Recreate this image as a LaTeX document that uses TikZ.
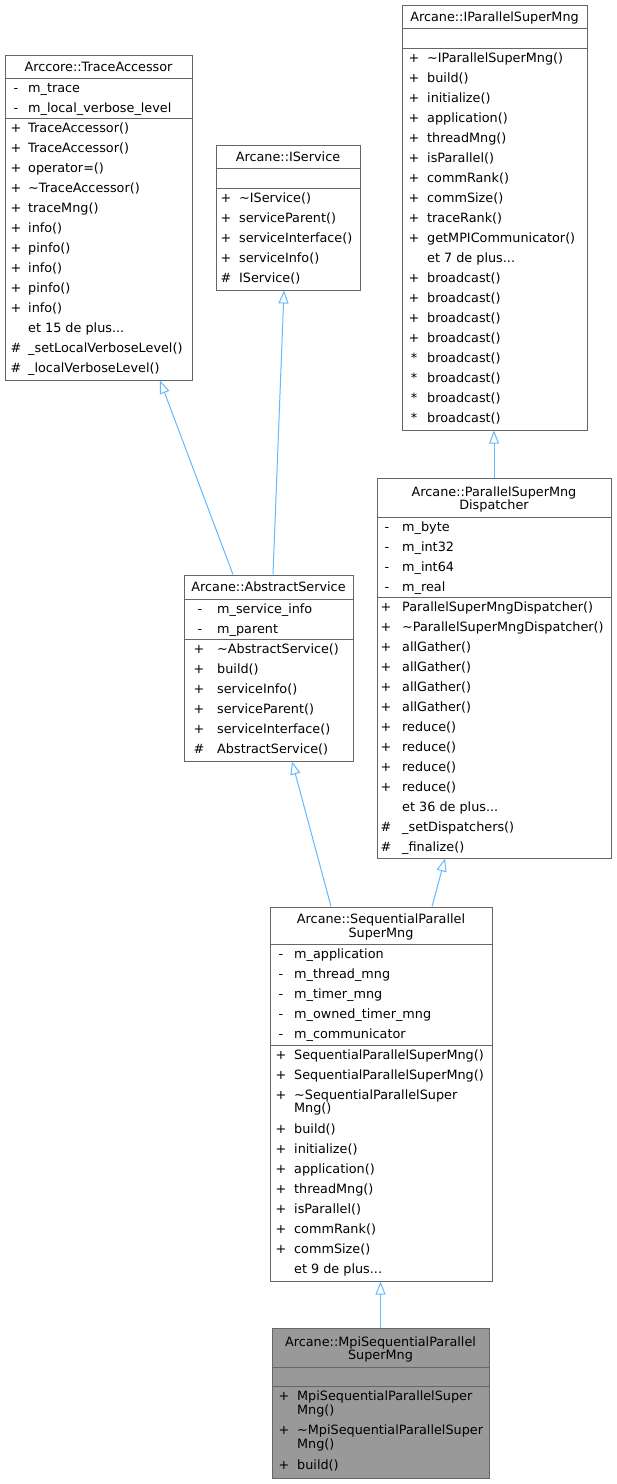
\documentclass[tikz,border=0pt]{standalone}
\usepackage{fontspec}
\setmainfont{DejaVu Sans}
\usetikzlibrary{arrows.meta}
\definecolor{boxline}{HTML}{666666}
\definecolor{edgeblue}{HTML}{63B8FF}
\definecolor{leafgray}{HTML}{999999}
\tikzset{
  classbox/.style={draw=boxline, fill=white, line width=1pt, inner sep=0pt},
  sepline/.style={draw=boxline, line width=1pt},
  memtext/.style={anchor=west, inner sep=0pt, text height=9pt, text depth=0pt},
  symtext/.style={anchor=center, inner sep=0pt, text height=9pt, text depth=0pt},
  titletext/.style={align=center, inner sep=0pt, text height=9pt, text depth=0pt,
    font=\fontsize{12.8}{13.5}\selectfont},
  inherit/.style={draw=edgeblue, line width=1pt, -{Triangle[open, length=13pt, width=10pt]}},
}
\begin{document}
\begin{tikzpicture}[x=1pt, y=-1pt, font=\fontsize{12.8}{20}\selectfont]
\useasboundingbox (0,0) rectangle (617,1484);

\node[classbox, minimum width=187, minimum height=325] (trace) at (98.5,217.5) {};
\node[classbox, minimum width=144, minimum height=145] (iservice) at (288,217.5) {};
\node[classbox, minimum width=185, minimum height=425] (ipar) at (494.5,217.5) {};
\node[classbox, minimum width=234, minimum height=380] (disp) at (494,668) {};
\node[classbox, minimum width=169, minimum height=186] (abs) at (268.5,668) {};
\node[classbox, minimum width=222, minimum height=374] (seq) at (381,1094) {};
\node[classbox, fill=leafgray, minimum width=217, minimum height=150] (mpi) at (380.5,1403) {};

\draw[sepline] (5,78) -- (192,78);
\draw[sepline] (5,118) -- (192,118);
\draw[sepline] (216,168) -- (360,168);
\draw[sepline] (216,188) -- (360,188);
\draw[sepline] (402,28) -- (587,28);
\draw[sepline] (402,48) -- (587,48);
\draw[sepline] (377,517) -- (611,517);
\draw[sepline] (377,597) -- (611,597);
\draw[sepline] (184,599) -- (353,599);
\draw[sepline] (184,639) -- (353,639);
\draw[sepline] (270,944) -- (492,944);
\draw[sepline] (270,1045) -- (492,1045);
\draw[sepline] (272,1367) -- (489,1367);
\draw[sepline] (272,1386) -- (489,1386);

\node[titletext] (trace-title) at (98.5,66.5) {Arccore::TraceAccessor};
\foreach \t [count=\i from 0] in {m\_trace, m\_local\_verbose\_level} {
  \node[symtext] (trace-as\i) at (16,87.5+20*\i) {-};
  \node[memtext] (trace-a\i) at (28,87.5+20*\i) {\t};
}
\foreach \t [count=\i from 0] in {TraceAccessor(), TraceAccessor(), operator=(),
    \textasciitilde TraceAccessor(), traceMng(), info(), pinfo(), info(), pinfo(), info()} {
  \node[symtext] (trace-ps\i) at (16,127.5+20*\i) {+};
  \node[memtext] (trace-p\i) at (28,127.5+20*\i) {\t};
}
\node[memtext] (trace-more) at (28,327.5) {et 15 de plus...};
\node[symtext] (trace-hs0) at (16,347.5) {\#};
\node[memtext] (trace-h0) at (28,347.5) {\_setLocalVerboseLevel()};
\node[symtext] (trace-hs1) at (16,367.5) {\#};
\node[memtext] (trace-h1) at (28,367.5) {\_localVerboseLevel()};

\node[titletext] (iservice-title) at (288,156.5) {Arcane::IService};
\foreach \t [count=\i from 0] in {\textasciitilde IService(), serviceParent(),
    serviceInterface(), serviceInfo()} {
  \node[symtext] (iservice-ps\i) at (226,197.5+20*\i) {+};
  \node[memtext] (iservice-p\i) at (239,197.5+20*\i) {\t};
}
\node[symtext] (iservice-hs0) at (226,277.5) {\#};
\node[memtext] (iservice-h0) at (239,277.5) {IService()};

\node[titletext] (ipar-title) at (494.5,16.5) {Arcane::IParallelSuperMng};
\foreach \t [count=\i from 0] in {\textasciitilde IParallelSuperMng(), build(), initialize(),
    application(), threadMng(), isParallel(), commRank(), commSize(), traceRank(),
    getMPICommunicator()} {
  \node[symtext] (ipar-ps\i) at (414,57.5+20*\i) {+};
  \node[memtext] (ipar-p\i) at (427,57.5+20*\i) {\t};
}
\node[memtext] (ipar-more) at (427,257.5) {et 7 de plus...};
\foreach \i in {0,...,3} {
  \node[symtext] (ipar-bs\i) at (414,277.5+20*\i) {+};
  \node[memtext] (ipar-b\i) at (427,277.5+20*\i) {broadcast()};
  \node[symtext] (ipar-ks\i) at (414,357.5+20*\i) {*};
  \node[memtext] (ipar-k\i) at (427,357.5+20*\i) {broadcast()};
}

\node[titletext] (disp-title) at (494,505) {Arcane::ParallelSuperMng\\Dispatcher};
\foreach \t [count=\i from 0] in {m\_byte, m\_int32, m\_int64, m\_real} {
  \node[symtext] (disp-as\i) at (387,526.5+20*\i) {-};
  \node[memtext] (disp-a\i) at (402,526.5+20*\i) {\t};
}
\foreach \t [count=\i from 0] in {ParallelSuperMngDispatcher(),
    \textasciitilde ParallelSuperMngDispatcher(), allGather(), allGather(), allGather(),
    allGather(), reduce(), reduce(), reduce(), reduce()} {
  \node[symtext] (disp-ps\i) at (386,606.5+20*\i) {+};
  \node[memtext] (disp-p\i) at (402,606.5+20*\i) {\t};
}
\node[memtext] (disp-more) at (402,806.5) {et 36 de plus...};
\node[symtext] (disp-hs0) at (386,826.5) {\#};
\node[memtext] (disp-h0) at (402,826.5) {\_setDispatchers()};
\node[symtext] (disp-hs1) at (386,846.5) {\#};
\node[memtext] (disp-h1) at (402,846.5) {\_finalize()};

\node[titletext] (abs-title) at (268.5,587) {Arcane::AbstractService};
\foreach \t [count=\i from 0] in {m\_service\_info, m\_parent} {
  \node[symtext] (abs-as\i) at (200,608.5+20*\i) {-};
  \node[memtext] (abs-a\i) at (217,608.5+20*\i) {\t};
}
\foreach \t [count=\i from 0] in {\textasciitilde AbstractService(), build(), serviceInfo(),
    serviceParent(), serviceInterface()} {
  \node[symtext] (abs-ps\i) at (199,648.5+20*\i) {+};
  \node[memtext] (abs-p\i) at (217,648.5+20*\i) {\t};
}
\node[symtext] (abs-hs0) at (199,748.5) {\#};
\node[memtext] (abs-h0) at (217,748.5) {AbstractService()};

\node[titletext] (seq-title) at (381,932.5) {Arcane::SequentialParallel\\SuperMng};
\foreach \t [count=\i from 0] in {m\_application, m\_thread\_mng, m\_timer\_mng,
    m\_owned\_timer\_mng, m\_communicator} {
  \node[symtext] (seq-as\i) at (281,953.5+20*\i) {-};
  \node[memtext] (seq-a\i) at (294,953.5+20*\i) {\t};
}
\node[symtext] (seq-cs0) at (281,1054.5) {+};
\node[memtext] (seq-c0) at (294,1054.5) {SequentialParallelSuperMng()};
\node[symtext] (seq-cs1) at (281,1074.5) {+};
\node[memtext] (seq-c1) at (294,1074.5) {SequentialParallelSuperMng()};
\node[symtext] (seq-ds) at (281,1094.5) {+};
\node[memtext] (seq-d) at (294,1094.5) {\textasciitilde SequentialParallelSuper};
\node[memtext] (seq-d2) at (294,1108) {Mng()};
\foreach \t [count=\i from 0] in {build(), initialize(), application(), threadMng(),
    isParallel(), commRank(), commSize()} {
  \node[symtext] (seq-ps\i) at (281,1128.5+20*\i) {+};
  \node[memtext] (seq-p\i) at (294,1128.5+20*\i) {\t};
}
\node[memtext] (seq-more) at (294,1268.5) {et 9 de plus...};

\node[titletext] (mpi-title) at (380.5,1355) {Arcane::MpiSequentialParallel\\SuperMng};
\node[symtext] (mpi-cs) at (284,1396) {+};
\node[memtext] (mpi-c) at (297,1396) {MpiSequentialParallelSuper};
\node[memtext] (mpi-c2) at (297,1410) {Mng()};
\node[symtext] (mpi-ds) at (284,1430) {+};
\node[memtext] (mpi-d) at (297,1430) {\textasciitilde MpiSequentialParallelSuper};
\node[memtext] (mpi-d2) at (297,1444) {Mng()};
\node[symtext] (mpi-bs) at (284,1465) {+};
\node[memtext] (mpi-b) at (297,1465) {build()};

\draw[inherit] ([xshift=-35.5]abs.north) -- ([xshift=61.5]trace.south);
\draw[inherit] ([xshift=4.5]abs.north) -- ([xshift=-4]iservice.south);
\draw[inherit] (disp.north) -- (disp.north |- ipar.south);
\draw[inherit] ([xshift=-50]seq.north) -- ([xshift=23.5]abs.south);
\draw[inherit] ([xshift=51]seq.north) -- ([xshift=-49]disp.south);
\draw[inherit] (mpi.north) -- (mpi.north |- seq.south);

\end{tikzpicture}
\end{document}
